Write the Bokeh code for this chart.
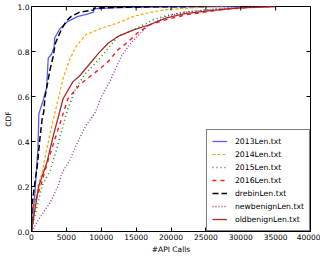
import math
from bokeh.plotting import figure
from bokeh.models import FixedTicker, Range1d, CustomJSTickFormatter
from bokeh.embed import file_html
from bokeh.resources import INLINE

# ---- data ----
x_2013 = [0, 180, 550, 920, 1060, 1750, 2170, 2400, 2900, 3240, 3330, 4030, 5180, 6570, 8240, 8900, 8930, 12000, 20000, 30000]
y_2013 = [0, 0.05, 0.2, 0.367, 0.524, 0.59, 0.64, 0.77, 0.79, 0.82, 0.86, 0.9, 0.933, 0.955, 0.968, 0.975, 0.99, 0.995, 0.998, 1.0]

x_2014 = [0, 230, 920, 1530, 1990, 2920, 3840, 4530, 5460, 6390, 7780, 10090, 12400, 14720, 17030, 19350, 23500, 28000]
y_2014 = [0, 0.055, 0.204, 0.263, 0.338, 0.471, 0.59, 0.68, 0.763, 0.823, 0.875, 0.904, 0.927, 0.957, 0.974, 0.986, 0.995, 1.0]

x_2015 = [0, 370, 1530, 2680, 3610, 4530, 5220, 6390, 7780, 9630, 11020, 12400, 14720, 17500, 19350, 22000, 26000, 30000, 34000]
y_2015 = [0, 0.055, 0.204, 0.271, 0.367, 0.471, 0.546, 0.64, 0.704, 0.763, 0.815, 0.867, 0.897, 0.942, 0.96, 0.975, 0.987, 0.996, 1.0]

x_2016 = [0, 60, 500, 1290, 1750, 2450, 3380, 4300, 5220, 6850, 7780, 9630, 11020, 12400, 13790, 15180, 17030, 19350, 22120, 27680, 31850, 35000]
y_2016 = [0, 0.1, 0.13, 0.2, 0.25, 0.323, 0.412, 0.501, 0.59, 0.65, 0.674, 0.719, 0.756, 0.808, 0.841, 0.882, 0.92, 0.942, 0.963, 0.988, 0.997, 1.0]

x_drebin = [0, 90, 410, 830, 1200, 1530, 1750, 1940, 2310, 2640, 3100, 3420, 4250, 4950, 5640, 6850, 8900, 8950, 15000, 25000]
y_drebin = [0, 0.12, 0.2, 0.293, 0.412, 0.501, 0.531, 0.6, 0.66, 0.717, 0.777, 0.836, 0.896, 0.933, 0.955, 0.974, 0.985, 0.993, 0.998, 1.0]

x_newbenign = [0, 1060, 2680, 3840, 4300, 5460, 6390, 7780, 8500, 9170, 10090, 11250, 12860, 14250, 15180, 16570, 18420, 19350, 22000, 26000, 30000, 35000]
y_newbenign = [0, 0.055, 0.129, 0.204, 0.256, 0.315, 0.382, 0.471, 0.5, 0.531, 0.605, 0.667, 0.778, 0.838, 0.867, 0.912, 0.942, 0.957, 0.975, 0.988, 0.996, 1.0]

x_oldbenign = [0, 270, 1060, 2220, 3140, 4530, 5920, 6850, 8240, 9630, 11020, 12400, 14720, 17030, 19350, 22000, 26000, 30000, 35000]
y_oldbenign = [0, 0.055, 0.204, 0.308, 0.427, 0.59, 0.665, 0.69, 0.741, 0.793, 0.838, 0.867, 0.897, 0.92, 0.949, 0.968, 0.983, 0.994, 1.0]

labels = ["2013Len.txt", "2014Len.txt", "2015Len.txt", "2016Len.txt",
          "drebinLen.txt", "newbenignLen.txt", "oldbenignLen.txt"]

x_ticks = [0, 5000, 10000, 15000, 20000, 25000, 30000, 35000, 40000]
y_ticks = [0.0, 0.2, 0.4, 0.6, 0.8, 1.0]
x_min, x_max = 0, 40000
y_min, y_max = 0.0, 1.0

FONT = "DejaVu Sans"

p = figure(width=320, height=256, output_backend="svg", toolbar_location=None,
           x_range=Range1d(x_min, x_max), y_range=Range1d(y_min, y_max),
           min_border_left=4, min_border_right=10, min_border_top=6, min_border_bottom=2)
p.background_fill_color = "white"
p.border_fill_color = "white"
p.grid.visible = False
p.outline_line_color = "black"
p.outline_line_width = 1

series = [
    (x_2013, y_2013, "#5b5bff", None, 1.3),
    (x_2014, y_2014, "#ffa500", "3 2", 1.2),
    (x_2015, y_2015, "#1f8f1f", "1 3", 1.6),
    (x_2016, y_2016, "#ff1a1a", "4 4", 1.4),
    (x_drebin, y_drebin, "black", "6 3", 1.5),
    (x_newbenign, y_newbenign, "#9a2a9a", "1 2", 1.3),
    (x_oldbenign, y_oldbenign, "#a52a2a", None, 1.3),
]
for (xs, ys, col, dash, lw), lab in zip(series, labels):
    kw = dict(line_color=col, line_width=lw, legend_label=lab)
    if dash:
        kw["line_dash"] = dash
    p.line(xs, ys, **kw)

# inward ticks on the top and right edges (half of each dash is clipped by the frame)
p.scatter(x=x_ticks, y=[y_max] * len(x_ticks), marker="dash", size=8, angle=math.pi / 2,
          line_color="black", line_width=1)
p.scatter(x=[x_max] * len(y_ticks), y=y_ticks, marker="dash", size=8,
          line_color="black", line_width=1)

for ax, ticks in ((p.xaxis[0], x_ticks), (p.yaxis[0], y_ticks)):
    ax.ticker = FixedTicker(ticks=ticks)
    ax.major_tick_in = 4
    ax.major_tick_out = 0
    ax.minor_tick_in = 0
    ax.minor_tick_out = 0
    ax.axis_line_color = "black"
    ax.major_tick_line_color = "black"
    ax.major_label_text_font = FONT
    ax.major_label_text_font_size = "7.5px"
    ax.major_label_text_color = "black"
    ax.major_label_standoff = 2
    ax.axis_label_text_font = FONT
    ax.axis_label_text_font_size = "7.5px"
    ax.axis_label_text_font_style = "normal"
    ax.axis_label_text_color = "black"
    ax.axis_label_standoff = 2

p.xaxis[0].axis_label = "#API Calls"
p.yaxis[0].axis_label = "CDF"
p.yaxis[0].formatter = CustomJSTickFormatter(code="return tick.toFixed(1);")
p.xaxis[0].formatter = CustomJSTickFormatter(code="return tick.toFixed(0);")

lg = p.legend[0]
lg.location = "bottom_right"
lg.margin = 0
lg.border_line_color = "black"
lg.border_line_width = 1
lg.background_fill_color = "white"
lg.background_fill_alpha = 1.0
lg.label_text_font = FONT
lg.label_text_font_size = "7.7px"
lg.label_text_color = "black"
lg.glyph_width = 15
lg.glyph_height = 12
lg.label_height = 12
lg.label_standoff = 8
lg.spacing = 1
lg.padding = 5

open("out.html", "w").write(file_html(p, INLINE))
